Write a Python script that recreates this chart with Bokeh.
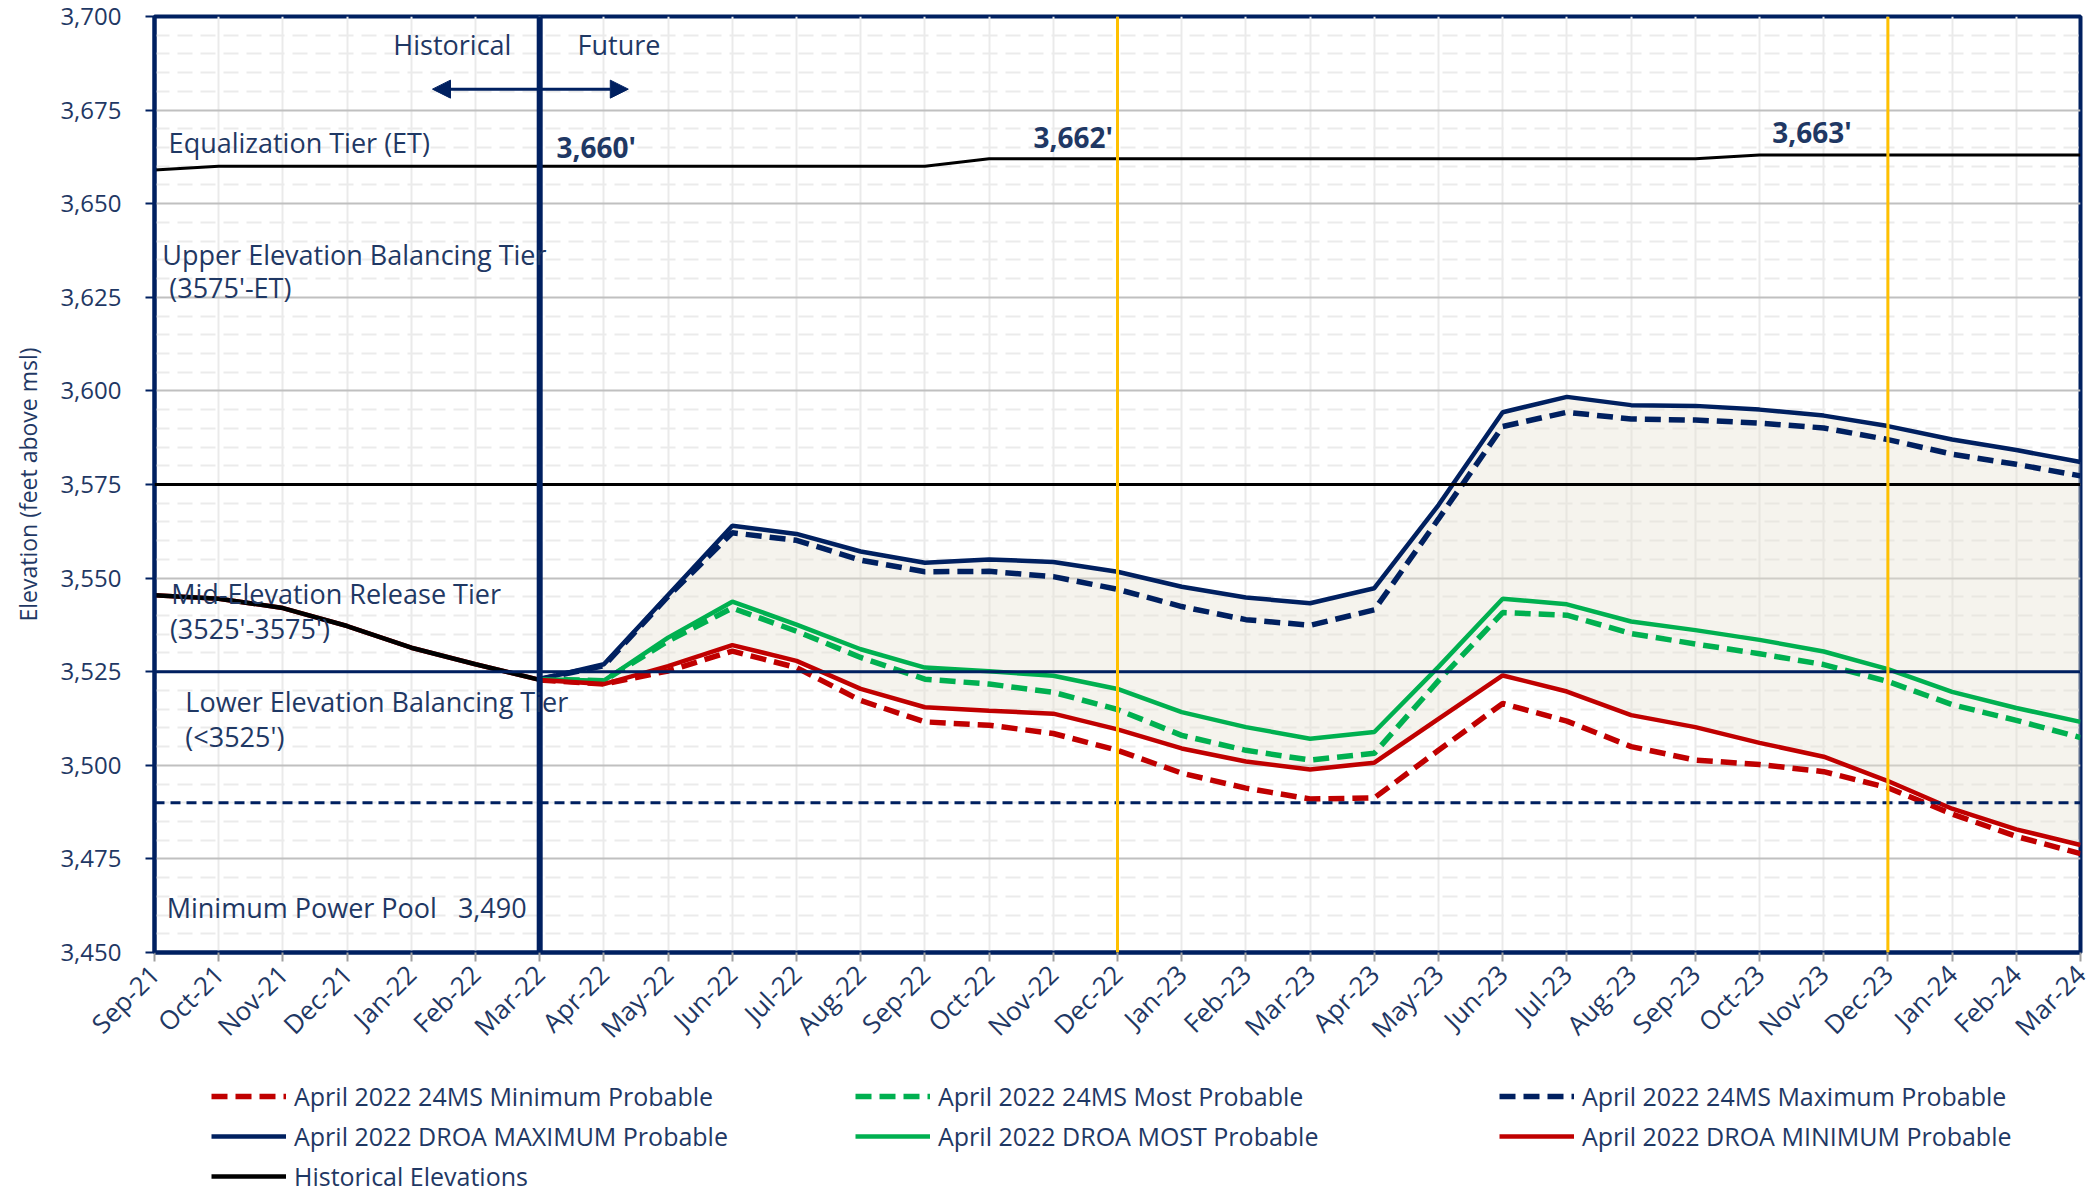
import math
from bokeh.plotting import figure
from bokeh.layouts import column
from bokeh.models import (Range1d, FixedTicker, Span, Label, Arrow, NormalHead,
                          Legend, LegendItem, NumeralTickFormatter)
from bokeh.embed import file_html
from bokeh.resources import INLINE

# ---------------- data ----------------
months = ["Sep-21", "Oct-21", "Nov-21", "Dec-21", "Jan-22", "Feb-22", "Mar-22",
          "Apr-22", "May-22", "Jun-22", "Jul-22", "Aug-22", "Sep-22", "Oct-22",
          "Nov-22", "Dec-22", "Jan-23", "Feb-23", "Mar-23", "Apr-23", "May-23",
          "Jun-23", "Jul-23", "Aug-23", "Sep-23", "Oct-23", "Nov-23", "Dec-23",
          "Jan-24", "Feb-24", "Mar-24"]

# Sep-21 .. Mar-22
historical = [3545.4, 3544.5, 3542.0, 3537.2, 3531.4, 3527.0, 3522.8]

# Equalization tier elevation, Sep-21 .. Mar-24
et_tier = [3659] + [3660] * 12 + [3662] * 12 + [3663] * 6

# projections Mar-22 .. Mar-24
droa_max = [3523.0, 3527.0, 3545.5, 3564.0, 3561.8, 3557.1, 3554.1, 3555.0, 3554.3,
            3551.7, 3547.7, 3544.8, 3543.3, 3547.3, 3569.5, 3594.3, 3598.4, 3596.2,
            3596.0, 3595.0, 3593.4, 3590.6, 3587.0, 3584.2, 3581.0]
ms24_max = [3523.0, 3526.6, 3545.1, 3562.1, 3560.1, 3554.8, 3551.7, 3551.8, 3550.4,
            3547.0, 3542.4, 3538.9, 3537.4, 3541.5, 3565.8, 3590.5, 3594.3, 3592.5,
            3592.2, 3591.4, 3590.1, 3587.0, 3583.1, 3580.4, 3577.3]
droa_most = [3523.0, 3522.6, 3534.1, 3543.7, 3537.6, 3531.0, 3526.1, 3525.1, 3523.9,
             3520.4, 3514.2, 3510.2, 3507.1, 3508.9, 3526.3, 3544.5, 3543.0, 3538.4,
             3536.1, 3533.5, 3530.4, 3525.7, 3519.6, 3515.3, 3511.6]
ms24_most = [3523.0, 3522.6, 3533.2, 3542.0, 3535.8, 3528.8, 3523.0, 3521.7, 3519.5,
             3514.9, 3508.0, 3504.0, 3501.4, 3503.2, 3522.6, 3540.8, 3540.1, 3535.2,
             3532.4, 3529.8, 3526.9, 3522.4, 3516.2, 3512.0, 3507.4]
droa_min = [3522.8, 3521.7, 3526.5, 3532.1, 3527.9, 3520.4, 3515.5, 3514.6, 3513.8,
            3509.6, 3504.5, 3501.0, 3498.9, 3500.7, 3512.4, 3524.0, 3519.7, 3513.4,
            3510.2, 3506.0, 3502.3, 3495.8, 3488.4, 3482.9, 3478.7]
ms24_min = [3522.8, 3521.7, 3525.2, 3530.5, 3526.1, 3517.3, 3511.6, 3510.7, 3508.5,
            3504.0, 3497.9, 3493.9, 3491.0, 3491.3, 3504.0, 3516.5, 3511.8, 3505.0,
            3501.4, 3500.2, 3498.3, 3494.0, 3487.0, 3481.0, 3476.4]

upper_tier = 3575
lower_tier = 3525
min_power_pool = 3490
divider_month = "Mar-22"
year_marks = ["Dec-22", "Dec-23"]

y_major = list(range(3450, 3701, 25))
y_minor = [v for v in range(3450, 3701, 5) if v % 25]

legend_labels = ["April 2022 24MS Minimum Probable", "April 2022 24MS Most Probable",
                 "April 2022 24MS Maximum Probable", "April 2022 DROA MAXIMUM Probable",
                 "April 2022 DROA MOST Probable", "April 2022 DROA MINIMUM Probable",
                 "Historical Elevations"]

# ---------------- styling ----------------
NAVY = "#002060"
TEXT = "#1F3864"
GREEN = "#00B050"
RED = "#C00000"
GOLD = "#FFC000"
FONT = "Open Sans"
DASH = "16 8"

x_all = list(range(len(months)))
p0 = months.index(divider_month)
x_proj = x_all[p0:]
x_hist = x_all[:len(historical)]
x_min_full = x_all
droa_min_full = historical[:-1] + droa_min

p = figure(width=2095, height=1060, x_range=Range1d(0, len(months) - 1),
           y_range=Range1d(3450, 3700), output_backend="svg", toolbar_location=None,
           min_border_left=154, min_border_right=15, min_border_top=16,
           min_border_bottom=99)
p.background_fill_color = "white"
p.border_fill_color = "white"
p.outline_line_color = NAVY
p.outline_line_width = 4

yticker = FixedTicker(ticks=y_major, minor_ticks=y_minor)
xticker = FixedTicker(ticks=x_all)

p.xgrid.ticker = xticker
p.xgrid.grid_line_color = "#EAEAEA"
p.xgrid.grid_line_width = 2
p.ygrid.ticker = yticker
p.ygrid.grid_line_color = "#C0C0C0"
p.ygrid.grid_line_width = 2
p.ygrid.minor_grid_line_color = "#EBEBEB"
p.ygrid.minor_grid_line_width = 2
p.ygrid.minor_grid_line_dash = "15 8"

xa = p.xaxis[0]
xa.ticker = xticker
xa.major_label_overrides = {i: m for i, m in enumerate(months)}
xa.major_label_orientation = math.pi / 4
xa.axis_line_color = NAVY
xa.axis_line_width = 4
xa.major_tick_line_color = "#A0A0A0"
xa.major_tick_line_width = 2
xa.major_tick_out = 9
xa.major_tick_in = 0
xa.minor_tick_line_color = None
xa.major_label_standoff = 8
xa.major_label_text_font = FONT
xa.major_label_text_font_size = "26px"
xa.major_label_text_color = TEXT

ya = p.yaxis[0]
ya.ticker = yticker
ya.formatter = NumeralTickFormatter(format="0,0")
ya.axis_line_color = NAVY
ya.axis_line_width = 4
ya.major_tick_line_color = NAVY
ya.major_tick_line_width = 2
ya.major_tick_out = 9
ya.major_tick_in = 0
ya.minor_tick_line_color = None
ya.major_label_standoff = 24
ya.major_label_text_font = FONT
ya.major_label_text_font_size = "24px"
ya.major_label_text_color = TEXT
ya.axis_label = "Elevation (feet above msl)"
ya.axis_label_text_font = FONT
ya.axis_label_text_font_size = "23px"
ya.axis_label_text_font_style = "normal"
ya.axis_label_text_color = TEXT
ya.axis_label_standoff = 13

# shaded range between DROA max and min
p.varea(x=x_proj, y1=droa_min, y2=droa_max, fill_color="#E6E1D2", fill_alpha=0.4)

# tier lines
p.add_layout(Span(location=upper_tier, dimension="width", line_color="black", line_width=3))
p.add_layout(Span(location=lower_tier, dimension="width", line_color=NAVY, line_width=3))
p.add_layout(Span(location=min_power_pool, dimension="width", line_color=NAVY,
                  line_width=3, line_dash="10 6"))

# equalization tier
p.line(x_all, et_tier, line_color="black", line_width=3)

styles = [
    dict(line_color=RED, line_width=5.5, line_dash=DASH),
    dict(line_color=GREEN, line_width=5.5, line_dash=DASH),
    dict(line_color=NAVY, line_width=5.5, line_dash=DASH),
    dict(line_color=NAVY, line_width=4.5),
    dict(line_color=GREEN, line_width=4.5),
    dict(line_color=RED, line_width=4.5),
    dict(line_color="black", line_width=4.5),
]
series = [(x_proj, ms24_min), (x_proj, ms24_most), (x_proj, ms24_max),
          (x_proj, droa_max), (x_proj, droa_most), (x_min_full, droa_min_full),
          (x_hist, historical)]

for (xs, ys), st in zip(series, styles):
    p.line(xs, ys, **st)

# vertical markers
for m in year_marks:
    p.add_layout(Span(location=months.index(m), dimension="height",
                      line_color=GOLD, line_width=3))
p.add_layout(Span(location=p0, dimension="height", line_color=NAVY, line_width=6))

# arrow Historical <-> Future
p.add_layout(Arrow(start=NormalHead(size=18, fill_color=NAVY, line_color=NAVY),
                   end=NormalHead(size=18, fill_color=NAVY, line_color=NAVY),
                   x_start=4.33, y_start=3680.6, x_end=7.38, y_end=3680.6,
                   line_color=NAVY, line_width=3))


def lab(x, y, text, size="27px", style="normal"):
    p.add_layout(Label(x=x, y=y, text=text, text_font=FONT, text_font_size=size,
                       text_font_style=style, text_color=TEXT,
                       text_baseline="middle", text_align="left"))


lab(3.72, 3692.6, "Historical")
lab(6.59, 3692.6, "Future")
lab(0.22, 3666.4, "Equalization Tier (ET)")
lab(6.26, 3665.2, "3,660'", size="28px", style="bold")
lab(13.69, 3667.9, "3,662'", size="28px", style="bold")
lab(25.2, 3669.2, "3,663'", size="28px", style="bold")
lab(0.12, 3636.3, "Upper Elevation Balancing Tier")
lab(0.23, 3627.5, "(3575'-ET)")
lab(0.26, 3545.8, "Mid-Elevation Release Tier")
lab(0.24, 3536.5, "(3525'-3575')")
lab(0.48, 3517.1, "Lower Elevation Balancing Tier")
lab(0.48, 3507.8, "(<3525')")
lab(0.19, 3461.9, "Minimum Power Pool\u00a0\u00a0\u00a03,490")

# ---------------- legend strip ----------------
# (same series drawn again, kept outside this strip's ranges so only the legend shows)
lg = figure(width=2095, height=132, x_range=Range1d(0, 1), y_range=Range1d(0, 1),
            output_backend="svg", toolbar_location=None, min_border=0)
lg.axis.visible = False
lg.grid.visible = False
lg.outline_line_color = None
lg.background_fill_color = "white"
lg.border_fill_color = "white"

items = []
for label, (xs, ys), st in zip(legend_labels, series, styles):
    r = lg.line(xs, ys, **st)
    items.append(LegendItem(label=label, renderers=[r]))

legend = Legend(items=items, location=(57, -4), orientation="horizontal", ncols=3,
                glyph_width=75, glyph_height=40, label_height=40, label_width=561,
                label_standoff=8, spacing=0, padding=0, margin=0,
                border_line_color=None, background_fill_alpha=0,
                label_text_font=FONT, label_text_font_size="25px",
                label_text_color=TEXT)
lg.add_layout(legend, "center")

layout = column(p, lg, spacing=0)
open("out.html", "w").write(file_html(layout, INLINE))
